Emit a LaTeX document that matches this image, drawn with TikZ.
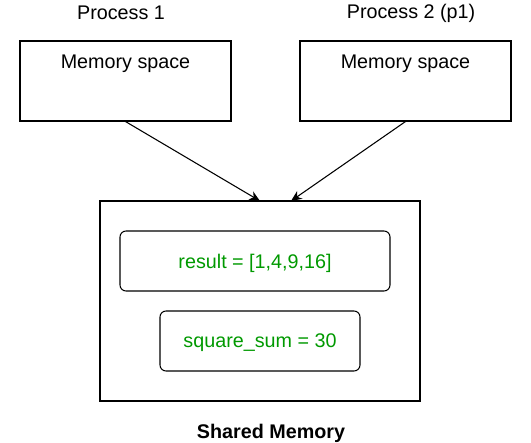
\documentclass[tikz,border=0pt]{standalone}
\usepackage{fontspec}
\setmainfont{Liberation Sans}
\usetikzlibrary{arrows.meta}
\definecolor{valgreen}{HTML}{009900}
\tikzset{
  membox/.style={draw, thick, minimum width=211*0.75pt, minimum height=80*0.75pt, inner sep=0pt},
  valbox/.style={draw, thick, rounded corners=6*0.75pt, minimum height=60*0.75pt, inner sep=0pt, text depth=0pt, text=valgreen},
  link/.style={thick, -{Stealth[length=8pt, width=7pt, inset=2.5pt]}},
}

\begin{document}
\begin{tikzpicture}[x=0.75pt, y=-0.75pt, font=\fontsize{14.8}{17}\selectfont]
      \useasboundingbox (0,0) rectangle (531,442);
      %\fill[red] (0,0) circle (2pt);
      \node (p1) at (121, 13) {Process 1};
      \node (p2) at (411, 13) {Process 2 (p1)};

      \node[membox] (m1) at (125.5, 81) {};
      \node[membox] (m2) at (405.5, 81) {};
      \node (t1) at (125.5, 63.5) {Memory space};
      \node (t2) at (405.5, 63.5) {Memory space};

      \node[draw, thick, minimum width=320*0.75pt, minimum height=200*0.75pt, inner sep=0pt] (shm) at (260, 301) {};
      \node[valbox, minimum width=270*0.75pt] (res) at (255, 261) {result = [1,4,9,16]};
      \node[valbox, minimum width=200*0.75pt] (sq) at (260, 341) {square\_sum = 30};
      \node[font=\fontsize{14.8}{17}\selectfont\bfseries] (lbl) at (271, 433) {Shared Memory};

      \coordinate (in1) at (260, 201);
      \coordinate (in2) at (291, 201);
      \draw[link] (m1.south) -- (in1);
      \draw[link] (m2.south) -- (in2);
    \end{tikzpicture}
\end{document}
